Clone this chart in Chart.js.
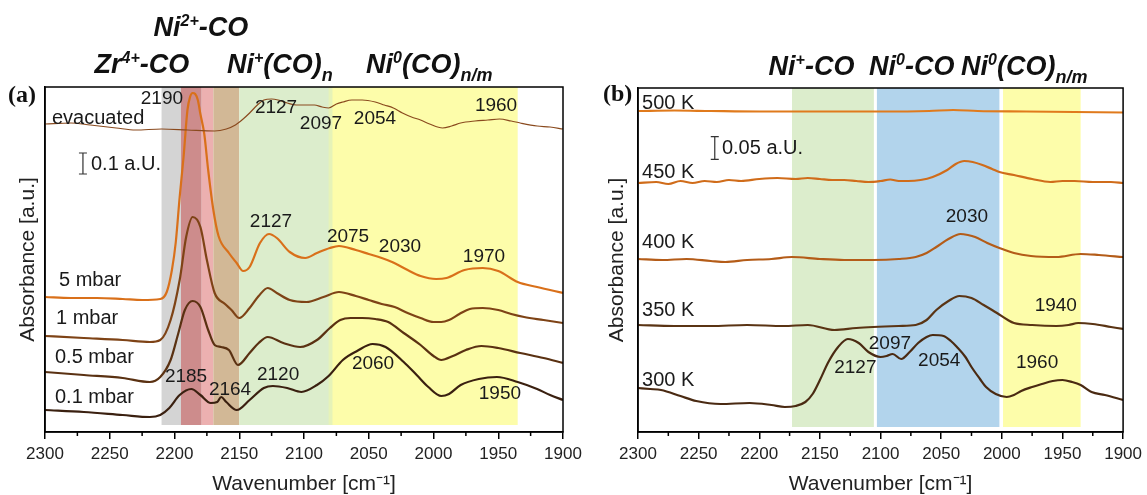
<!DOCTYPE html>
<html>
<head>
<meta charset="utf-8">
<script src="https://cdn.jsdelivr.net/npm/chart.js"></script>
<style>
  body { margin: 0; background: #fff; width: 1147px; height: 495px; overflow: hidden; position: relative; }
  #wrapA { position: absolute; left: 0; top: 0; width: 590px; height: 495px; }
  #wrapB { position: absolute; left: 590px; top: 0; width: 557px; height: 495px; }
</style>
</head>
<body>
<div id="wrapA"><canvas id="chartA" width="590" height="495"></canvas></div>
<div id="wrapB"><canvas id="chartB" width="557" height="495"></canvas></div>
<script>
var FONT = '"Liberation Sans", Arial, Helvetica, sans-serif';

// ---- panel (a): CO on the sample at different pressures (offset spectra, arb. units)
var evacX = [2300,2280,2265,2245,2230,2210,2190,2169,2160,2153,2147,2142,2136,2131,2125,2120,2113,2106,2099,2092,2086,2081,2075,2070,2063,2055,2045,2038,2031,2024,2017,2010,2003,1993,1986,1979,1968,1958,1949,1940,1933,1920,1910,1900];
var evacY = [308,309,307,304,302,303,302,301,303,307,313,319,327,332,333,332,329,327,327,327,325,324,328,330,332,332,330,327,324,319,315,312,308,304,306,309,311,312,313,311,309,306,305,303];

var mbar5X = [2300,2280,2260,2240,2225,2211,2206,2202,2199,2196,2193,2190,2188,2186,2184,2182,2180,2177,2174,2170,2166,2158,2152,2147,2142,2134,2127,2121,2111,2099,2090,2080,2073,2060,2050,2040,2032,2020,2010,1998,1990,1976,1962,1950,1935,1920,1900];
var mbar5Y = [135,134,134,133,132,133,140,162,190,235,275,322,335,339,338,332,318,298,262,222,196,179,169,161,165,189,198,194,180,174,179,184,186,182,178,174,170,162,156,153,154,162,164,161,150,145,139];

var mbar1X = [2300,2270,2240,2219,2211,2203,2196,2191,2186,2180,2175,2169,2161,2156,2150,2142,2135,2128,2121,2111,2098,2085,2073,2060,2050,2040,2030,2020,2010,2000,1994,1988,1980,1972,1962,1950,1940,1930,1915,1900];
var mbar1Y = [96,94,92,90,92,112,152,195,215,205,172,139,128,122,114,124,136,144,139,132,130,135,140,136,132,128,125,119,114,110,110,112,118,123,124,122,118,115,112,109];

var mbar05X = [2300,2270,2240,2219,2211,2203,2197,2192,2186,2180,2174,2169,2164,2158,2151,2142,2135,2128,2116,2103,2090,2080,2072,2064,2055,2045,2035,2023,2010,2000,1994,1985,1975,1963,1950,1933,1915,1900];
var mbar05Y = [60,57,54,50,55,72,99,122,131,125,102,87,85,82,67,79,89,95,89,85,92,104,112,114,114,113,110,99,87,76,72,76,82,86,84,79,74,69];

var mbar01X = [2300,2270,2240,2219,2211,2204,2196,2187,2180,2172,2167,2164,2160,2152,2142,2131,2124,2113,2102,2090,2081,2070,2059,2047,2037,2023,2013,2004,1994,1988,1979,1965,1951,1935,1920,1910,1900];
var mbar01Y = [22,20,17,15,17,24,37,43,37,29,30,35,30,22,32,44,46,44,40,47,56,72,81,88,85,70,57,45,36,38,47,53,55,50,43,37,32];

var bandsA = [[2210,2195],[2195,2179],[2179,2170],[2170,2150],[2150,2080],[2080,1935],[2081,2078]];
var curveNamesA = [['evacuated',2294.6,314],['5 mbar',2289.2,152],['1 mbar',2291.5,114],['0.5 mbar',2292.3,75],['0.1 mbar',2292.3,35]];
var peakNotesA = [['2190',2209.7,333],['2127',2121.6,324],['2097',2086.9,308],['2054',2045.2,313],['1960',1951.7,326],
                  ['2127',2125.5,210],['2075',2066,195],['2030',2025.9,185],['1970',1961,175],
                  ['2185',2191.1,55],['2164',2157.1,42],['2120',2120,57],['2060',2046.7,68],['1950',1948.7,38]];
var barA = [2270.7, 258, 279, '0.1 a.U.', 2264.5, 268];

// ---- panel (b): after heating to different temperatures
var k500X = [2300,2270,2240,2200,2150,2100,2060,2040,2020,1980,1940,1900];
var k500Y = [321,321.5,321,320.5,320.5,320.5,321,322,321,320.5,320,319.5];

var k450X = [2300,2285,2275,2265,2255,2245,2235,2225,2215,2200,2185,2170,2160,2150,2140,2130,2120,2110,2100,2092,2085,2077,2067,2057,2045,2038,2031,2024,2016,2008,2002,1990,1975,1960,1950,1940,1925,1910,1900];
var k450Y = [249,250,248,251,249,251,250,252,251,253,254,253,254,253,252,252,251,250,251,252.5,251,251,252,255,262,268,271,270,267,263,260,257,253,250,251,251,250,250,249];

var k400X = [2300,2280,2260,2240,2228,2210,2190,2173,2150,2130,2106,2085,2071,2062,2054,2044,2034,2028,2022,2012,2002,1990,1976,1955,1935,1920,1900];
var k400Y = [173,172,173,171,170,172,173,175,173,172,172,173,175,179,185,193,198,197,195,189,184,179,176,175,178,177,175];

var k350X = [2300,2270,2240,2210,2180,2160,2138,2120,2106,2085,2071,2062,2054,2044,2035,2025,2015,2004,1995,1990,1975,1955,1945,1937,1925,1910,1900];
var k350Y = [107,106,106,107,106,107,102,104,105,106,107,112,122,131,136,134,127,119,112,109,107,106,107,109,108,105,103];

var k300X = [2300,2290,2281,2265,2252,2232,2208,2190,2179,2170,2162,2156,2150,2143,2135,2127,2118,2110,2100,2095,2090,2083,2076,2069,2062,2057,2048,2042,2037,2030,2025,2018,2013,2005,1996,1990,1984,1975,1967,1958,1950,1942,1935,1926,1915,1900];
var k300Y = [44,43,42,36,31,28,29,27,25,26,30,38,52,70,85,93,89,80,75,76,78,73,80,89,95,97,96,91,85,75,65,53,45,38,35,37,41,45,48,51,52,50,47,40,37,32];

var bandsB = [[2173,2105.5],[2103,2002],[1999,1935]];
var curveNamesB = [['500 K',2296.7,329],['450 K',2296.7,260],['400 K',2296.7,190],['350 K',2296.7,122],['300 K',2296.7,52]];
var peakNotesB = [['2030',2028.8,215],['1940',1955.5,126],['2097',2092.3,88],['2127',2120.8,64],['2054',2051.6,71],['1960',1970.9,69]];
var barB = [2236.7, 272.7, 295.3, '0.05 a.U.', 2230.8, 284];

function pts(xs, ys) {
  return xs.map(function (v, i) { return {x: v, y: ys[i]}; });
}

function drawRich(ctx, parts, x, y) {
  var cx = x;
  parts.forEach(function (p) {
    var size = p[1] === 'sup' ? 16 : p[1] === 'sub' ? 18 : 27;
    var dy = p[1] === 'sup' ? -10 : p[1] === 'sub' ? 8 : 0;
    ctx.font = 'italic bold ' + size + 'px ' + FONT;
    ctx.fillText(p[0], cx, y + dy);
    cx += ctx.measureText(p[0]).width;
  });
}

function decor(cfg) {
  return {
    id: 'decor',
    beforeDatasetsDraw: function (chart) {
      var ctx = chart.ctx, a = chart.chartArea, x = chart.scales.x;
      ctx.save();
      cfg.bands.forEach(function (r, i) {
        var x1 = x.getPixelForValue(r[0]), x2 = x.getPixelForValue(r[1]);
        ctx.fillStyle = cfg.bandColors[i];
        ctx.fillRect(x1, a.top, x2 - x1, a.bottom - a.top - cfg.bandGap);
      });
      ctx.restore();
    },
    afterDraw: function (chart) {
      var ctx = chart.ctx, a = chart.chartArea, x = chart.scales.x, y = chart.scales.y;
      ctx.save();
      // box around the plot
      ctx.strokeStyle = '#000';
      ctx.lineWidth = 1.5;
      ctx.strokeRect(a.left, a.top, a.right - a.left, a.bottom - a.top);
      // minor ticks
      ctx.beginPath();
      for (var v = 2275; v > 1900; v -= 50) {
        var px = x.getPixelForValue(v);
        ctx.moveTo(px, a.bottom);
        ctx.lineTo(px, a.bottom + 4);
      }
      ctx.stroke();
      // scale bar
      var b = cfg.bar;
      var bx = x.getPixelForValue(b[0]), b1 = y.getPixelForValue(b[1]), b2 = y.getPixelForValue(b[2]);
      ctx.strokeStyle = '#333';
      ctx.lineWidth = 1.2;
      ctx.beginPath();
      ctx.moveTo(bx, b1); ctx.lineTo(bx, b2);
      ctx.moveTo(bx - 4, b1); ctx.lineTo(bx + 4, b1);
      ctx.moveTo(bx - 4, b2); ctx.lineTo(bx + 4, b2);
      ctx.stroke();
      ctx.fillStyle = '#1a1a1a';
      ctx.textBaseline = 'middle';
      ctx.textAlign = 'left';
      ctx.font = '20px ' + FONT;
      ctx.fillText(b[3], x.getPixelForValue(b[4]), y.getPixelForValue(b[5]));
      // curve names
      cfg.names.forEach(function (n) {
        ctx.fillText(n[0], x.getPixelForValue(n[1]), y.getPixelForValue(n[2]));
      });
      // peak positions
      ctx.textAlign = 'center';
      ctx.font = '19px ' + FONT;
      cfg.notes.forEach(function (n) {
        ctx.fillText(n[0], x.getPixelForValue(n[1]), y.getPixelForValue(n[2]));
      });
      // species headers
      ctx.textAlign = 'left';
      ctx.textBaseline = 'alphabetic';
      ctx.fillStyle = '#111';
      cfg.heads.forEach(function (h) { drawRich(ctx, h.parts, h.x, h.y); });
      // panel letter
      ctx.font = 'bold 24px "Liberation Serif", "Times New Roman", serif';
      ctx.textBaseline = 'middle';
      ctx.fillText(cfg.letter, cfg.letterX, cfg.letterY);
      ctx.restore();
    }
  };
}

function makeChart(id, datasets, yMax, yWidth, padRight, padTop, titlePad, cfg) {
  return new Chart(document.getElementById(id).getContext('2d'), {
    type: 'line',
    data: {datasets: datasets},
    options: {
      responsive: false,
      animation: false,
      events: [],
      layout: {padding: {top: padTop, right: padRight, left: 0, bottom: 0}},
      elements: {point: {radius: 0}, line: {cubicInterpolationMode: 'monotone'}},
      plugins: {legend: {display: false}, tooltip: {enabled: false}},
      scales: {
        x: {
          type: 'linear', min: 1900, max: 2300, reverse: true,
          afterFit: function (s) { s.height = 63; },
          border: {color: '#000', width: 1.5},
          grid: {drawOnChartArea: false, drawTicks: true, tickLength: 7, color: '#000', lineWidth: 1.5},
          ticks: {stepSize: 50, autoSkip: false, maxRotation: 0, color: '#222', padding: 5, font: {family: FONT, size: 17},
                  callback: function (v) { return String(v); }},
          title: {display: true, text: 'Wavenumber [cm⁻¹]', color: '#222', font: {family: FONT, size: 21, lineHeight: 1}, padding: {top: -1.5, bottom: 0}}
        },
        y: {
          min: 0, max: yMax,
          afterFit: function (s) { s.width = yWidth; },
          border: {color: '#000', width: 1.5},
          grid: {display: false},
          ticks: {display: false},
          title: {display: true, text: 'Absorbance [a.u.]', color: '#222', font: {family: FONT, size: 21}, padding: {top: titlePad, bottom: 0}}
        }
      }
    },
    plugins: [decor(cfg)]
  });
}

function line(label, xs, ys, color, width) {
  return {label: label, data: pts(xs, ys), borderColor: color, borderWidth: width, fill: false};
}

makeChart('chartA', [
  line('evacuated', evacX, evacY, '#8a4a1e', 1.2),
  line('5 mbar', mbar5X, mbar5Y, '#d9701a', 2.2),
  line('1 mbar', mbar1X, mbar1Y, '#7e4316', 2.2),
  line('0.5 mbar', mbar05X, mbar05Y, '#5a3112', 2.2),
  line('0.1 mbar', mbar01X, mbar01Y, '#3a2010', 2.2)
], 345, 45, 27, 87, 16, {
  bands: bandsA,
  bandColors: ['#d4d4d4', '#cd8c8c', '#ecb0b0', '#d2b896', '#dcedcc', '#fdfdaa', '#e6f3b8'],
  bandGap: 7,
  bar: barA,
  names: curveNamesA,
  notes: peakNotesA,
  heads: [
    {parts: [['Ni'], ['2+', 'sup'], ['-CO']], x: 153.6, y: 36.4},
    {parts: [['Zr'], ['4+', 'sup'], ['-CO']], x: 94.6, y: 72.7},
    {parts: [['Ni'], ['+', 'sup'], ['(CO)'], ['n', 'sub']], x: 227, y: 72.7},
    {parts: [['Ni'], ['0', 'sup'], ['(CO)'], ['n/m', 'sub']], x: 366, y: 72.7}
  ],
  letter: '(a)', letterX: 8, letterY: 96
});

makeChart('chartB', [
  line('500 K', k500X, k500Y, '#e07a1c', 2.2),
  line('450 K', k450X, k450Y, '#d06c1a', 2.2),
  line('400 K', k400X, k400Y, '#b45c18', 2.2),
  line('350 K', k350X, k350Y, '#5a3414', 2.2),
  line('300 K', k300X, k300Y, '#4a2a12', 2.2)
], 344, 48, 18, 88, 15, {
  bands: bandsB,
  bandColors: ['#dcedcc', '#b2d4ec', '#fdfdaa'],
  bandGap: 5,
  bar: barB,
  names: curveNamesB,
  notes: peakNotesB,
  heads: [
    {parts: [['Ni'], ['+', 'sup'], ['-CO']], x: 178.6, y: 74.7},
    {parts: [['Ni'], ['0', 'sup'], ['-CO']], x: 279, y: 74.7},
    {parts: [['Ni'], ['0', 'sup'], ['(CO)'], ['n/m', 'sub']], x: 371, y: 74.7}
  ],
  letter: '(b)', letterX: 13, letterY: 95
});
</script>
</body>
</html>
